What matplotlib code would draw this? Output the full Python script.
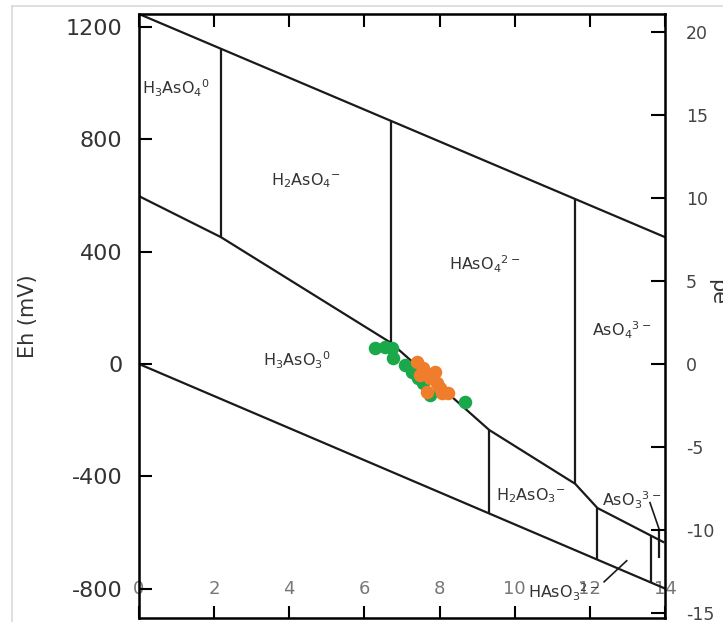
import matplotlib
matplotlib.use("Agg")
import matplotlib.pyplot as plt
from matplotlib.lines import Line2D

plt.rcParams["font.family"] = ["DejaVu Sans"]
plt.rcParams["mathtext.default"] = "regular"
plt.rcParams["axes.unicode_minus"] = False

# water stability limits (pH, Eh in mV)
water_upper_ph = [0, 14]
water_upper_eh = [1247, 452]
water_lower_ph = [0, 14]
water_lower_eh = [0, -800]

# As(V) / As(III) boundary
redox_ph = [0, 2.18, 6.71, 9.32, 11.61, 12.2, 13.95]
redox_eh = [598, 452, 75, -235, -427, -513, -634]

# vertical (acid-base) boundaries: pH, Eh top, Eh bottom
vert_ph = [2.18, 6.71, 11.61, 9.32, 12.2, 13.63, 13.85]
vert_top = [1123, 866, 588, -235, -513, -612, -591]
vert_bot = [452, 75, -427, -531, -697, -779, -691]

# measured samples
green_ph = [6.28, 6.55, 6.74, 6.76, 7.08, 7.27, 7.43, 7.56, 7.75, 8.68]
green_eh = [57, 61, 57, 21, -4, -28, -50, -68, -110, -135]
orange_ph = [7.40, 7.56, 7.88, 7.75, 7.48, 7.94, 8.02, 7.67, 8.07, 8.23]
orange_eh = [7, -14, -28, -50, -39, -68, -85, -100, -103, -103]

# species labels
species = [r"H$_3$AsO$_4$$^0$", r"H$_2$AsO$_4$$^{-}$", r"HAsO$_4$$^{2-}$",
           r"AsO$_4$$^{3-}$", r"H$_3$AsO$_3$$^0$", r"H$_2$AsO$_3$$^{-}$",
           r"AsO$_3$$^{3-}$", r"HAsO$_3$$^{2-}$"]
species_ph = [0.08, 4.45, 9.19, 12.84, 4.21, 10.44, 13.1, 10.36]
species_eh = [983, 652, 356, 121, 14, -470, -484, -812]
species_ha = ["left", "center", "center", "center", "center", "center", "center", "left"]

xticks = [0, 2, 4, 6, 8, 10, 12, 14]
yticks = [1200, 800, 400, 0, -400, -800]
pe_ticks = [20, 15, 10, 5, 0, -5, -10, -15]

fig = plt.figure(figsize=(7.23, 6.22), dpi=100)
ax = fig.add_axes([139 / 723, 4 / 622, 526 / 723, 604 / 622])

lw = 1.6
ax.plot(water_upper_ph, water_upper_eh, color="#1a1a1a", lw=lw)
ax.plot(water_lower_ph, water_lower_eh, color="#1a1a1a", lw=lw)
ax.plot(redox_ph, redox_eh, color="#1a1a1a", lw=lw)
ax.vlines(vert_ph, vert_bot, vert_top, color="#1a1a1a", lw=lw)

# small marker lines near pH 14
ax.plot([13.6, 13.85], [-494, -591], color="#1a1a1a", lw=1.2)
ax.plot([13.75, 13.85], [-591, -591], color="#1a1a1a", lw=1.2)
ax.plot([12.38, 12.98], [-776, -701], color="#1a1a1a", lw=1.2)

ax.scatter(green_ph, green_eh, s=95, color="#1aa84a", zorder=3, linewidths=0)
ax.scatter(orange_ph, orange_eh, s=95, color="#f07d2b", zorder=4, linewidths=0)

for lab, x, y, ha in zip(species, species_ph, species_eh, species_ha):
    ax.text(x, y, lab, fontsize=11.5, color="#333333", ha=ha, va="center")

ax.set_xlim(0, 14.0)
ax.set_ylim(-905, 1247)
ax.set_xticks(xticks)
ax.set_yticks(yticks)
ax.tick_params(axis="y", direction="in", length=9, width=1.5, labelsize=16,
               labelcolor="#333333", pad=12)
ax.tick_params(axis="x", direction="in", length=9, width=1.5, labelsize=13,
               labelcolor="#777777", top=True, pad=-27)
ax.set_ylabel("Eh (mV)", fontsize=15, color="#333333", labelpad=20)
for sp in ax.spines.values():
    sp.set_linewidth(1.8)

ax2 = ax.twinx()
ax2.set_ylim(-905 / 59.16, 1247 / 59.16)
ax2.set_yticks(pe_ticks)
ax2.tick_params(axis="y", direction="in", length=10, width=1.5, labelsize=12.5,
                labelcolor="#444444", pad=15)
fig.text(717 / 723, 1 - 292 / 622, "pe", rotation=270, fontsize=15,
         color="#333333", ha="center", va="center")

# faint screenshot frame
fig.add_artist(Line2D([12 / 723, 12 / 723], [0, 1 - 6 / 622], color="#d9d9d9", lw=1.2))
fig.add_artist(Line2D([12 / 723, 1], [1 - 6 / 622, 1 - 6 / 622], color="#d9d9d9", lw=1.2))

fig.savefig("out.png", dpi=100)
